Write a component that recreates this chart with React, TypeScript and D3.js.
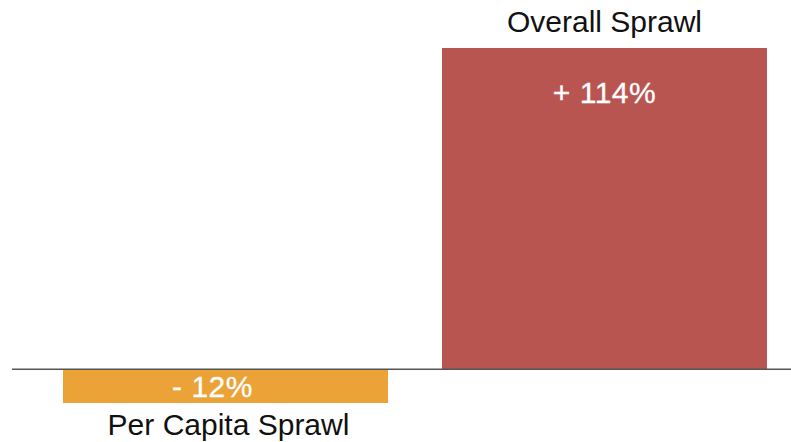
import React from "react";
import * as d3 from "d3";

const categories = ["Per Capita Sprawl", "Overall Sprawl"];
const values = [-12, 114];
const valueLabels = ["- 12%", "+ 114%"];
const colors = ["#eba237", "#b85551"];

const W = 791;
const H = 442;

export default function App() {
  const x = d3
    .scaleBand<string>()
    .domain(categories)
    .range([36, 794])
    .paddingInner(0.1425)
    .paddingOuter(0.07125);
  const y = d3.scaleLinear().domain([-12, 114]).range([403, 48]);
  const y0 = y(0);
  const font = "'Liberation Sans', Arial, Helvetica, sans-serif";

  return (
    <svg
      width={W}
      height={H}
      style={{ position: "absolute", left: 0, top: 0, background: "#fff" }}
      fontFamily={font}
    >
      {categories.map((c, i) => {
        const v = values[i];
        const top = Math.min(y(v), y0);
        const h = Math.abs(y(v) - y0);
        const cx = (x(c) as number) + x.bandwidth() / 2;
        const neg = v < 0;
        return (
          <g key={c}>
            <rect x={x(c)} y={top} width={x.bandwidth()} height={h} fill={colors[i]} />
            <text
              x={cx}
              dx={neg ? -13 : 0}
              y={neg ? top + 28 : top + 55}
              textAnchor="middle"
              fill="#fff"
              stroke="#fff"
              strokeWidth={0.3}
              fontSize={30}
              letterSpacing={0.5}
            >
              {valueLabels[i]}
            </text>
            <text
              x={cx}
              dx={neg ? 3 : 0}
              y={neg ? y(v) + 32 : y(v) - 16}
              textAnchor="middle"
              fill="#111"
              fontSize={30}
            >
              {c}
            </text>
          </g>
        );
      })}
      <line x1={12} x2={W} y1={y0} y2={y0} stroke="#555" strokeWidth={1.5} />
    </svg>
  );
}
